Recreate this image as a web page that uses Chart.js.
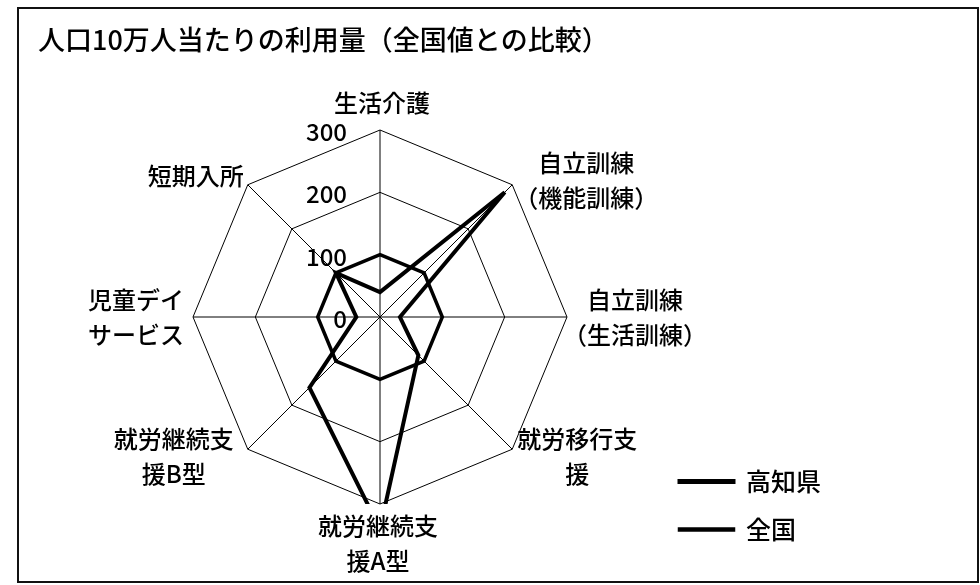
<!DOCTYPE html>
<html><head><meta charset="utf-8">
<script src="https://cdn.jsdelivr.net/npm/chart.js@4.4.0/dist/chart.umd.min.js"></script>
<style>
html,body{margin:0;padding:0;background:#fff;}
#wrap{position:relative;width:980px;height:585px;}
#frame{position:absolute;left:17px;top:7px;width:962px;height:576px;box-sizing:border-box;border:2px solid #111;pointer-events:none;}
canvas{display:block;}
</style></head><body>
<div id="wrap"><canvas id="c" width="980" height="585"></canvas><div id="frame"></div></div>
<script>
// ---- data ----
const chartTitle = '人口10万人当たりの利用量（全国値との比較）';
const categories = [
  ['生活介護'],
  ['自立訓練', '（機能訓練）'],
  ['自立訓練', '（生活訓練）'],
  ['就労移行支', '援'],
  ['就労継続支', '援A型'],
  ['就労継続支', '援B型'],
  ['児童デイ', 'サービス'],
  ['短期入所']
];
const seriesNames = ['高知県', '全国'];
const kochiValues = [40, 283, 32, 87, 340, 160, 38, 100];
const nationalValues = [100, 100, 100, 100, 100, 100, 100, 100];
const tickValues = [0, 100, 200, 300];

// ---- layout / style ----
const FONT = '"Noto Sans CJK JP", "Noto Sans", sans-serif';
const radarLayout = { cx: 380, cy: 317, r: 187 };
// offsets of each label block centre from its axis end (outer ring vertex)
const labelOffsets = [[2, -27.5], [74, -4], [68, 0], [65, 7], [-2, 39], [-74, 7], [-57, 0], [-52, -9]];
const labelFontSize = 24, labelLineH = 35;

const plotClip = {
  id: 'plotClip',
  beforeDatasetsDraw(chart) {
    const s = chart.scales.r, ctx = chart.ctx;
    ctx.save();
    ctx.beginPath();
    ctx.rect(s.xCenter - s.drawingArea - 20, s.yCenter - s.drawingArea - 20, 2 * s.drawingArea + 40, 2 * s.drawingArea + 20);
    ctx.clip();
  },
  afterDatasetsDraw(chart) { chart.ctx.restore(); }
};

const radarText = {
  id: 'radarText',
  beforeDatasetsDraw(chart) {
    const s = chart.scales.r, ctx = chart.ctx;
    ctx.save();
    ctx.fillStyle = '#000';
    ctx.font = '500 24px ' + FONT;
    ctx.textAlign = 'right';
    ctx.textBaseline = 'middle';
    s.ticks.forEach(t => {
      const d = s.getDistanceFromCenterForValue(t.value);
      ctx.fillText(t.label, s.xCenter - 33, s.yCenter - d + 2);
    });
    ctx.font = '500 ' + labelFontSize + 'px ' + FONT;
    ctx.textAlign = 'center';
    s._pointLabels.forEach((lab, i) => {
      const lines = Array.isArray(lab) ? lab : [lab];
      const p = s.getPointPosition(i, s.drawingArea);
      const cx = p.x + labelOffsets[i][0];
      const cy = p.y + labelOffsets[i][1];
      const h = (lines.length - 1) * labelLineH;
      lines.forEach((ln, k) => ctx.fillText(ln, cx, cy - h / 2 + k * labelLineH));
    });
    ctx.restore();
  }
};

new Chart(document.getElementById('c'), {
  type: 'radar',
  data: {
    labels: categories,
    datasets: [
      { label: seriesNames[0], data: kochiValues, borderColor: '#000', backgroundColor: '#000', borderWidth: 4, pointRadius: 0, fill: false },
      { label: seriesNames[1], data: nationalValues, borderColor: '#000', backgroundColor: '#000', borderWidth: 3.5, pointRadius: 0, fill: false }
    ]
  },
  options: {
    responsive: false,
    animation: false,
    events: [],
    devicePixelRatio: 1,
    layout: { padding: { left: 38, right: 149, top: 0, bottom: 20 } },
    plugins: {
      title: {
        display: true, text: chartTitle, align: 'start', color: '#000',
        font: { family: FONT, size: 27, weight: 500 },
        padding: { top: 24, bottom: 20 }
      },
      legend: {
        position: 'right', align: 'end',
        labels: { boxWidth: 54, boxHeight: 1, padding: 23, color: '#000', font: { family: FONT, size: 25, weight: 500 } }
      },
      tooltip: { enabled: false }
    },
    scales: {
      r: {
        min: tickValues[0], max: tickValues[tickValues.length - 1],
        ticks: { stepSize: tickValues[1] - tickValues[0], display: false },
        grid: { color: '#000', lineWidth: 1, circular: false },
        angleLines: { color: '#000', lineWidth: 1 },
        pointLabels: { display: false },
        afterFit: (scale) => { scale.xCenter = radarLayout.cx; scale.yCenter = radarLayout.cy; scale.drawingArea = radarLayout.r; }
      }
    }
  },
  plugins: [radarText, plotClip]
});
</script>
</body></html>
